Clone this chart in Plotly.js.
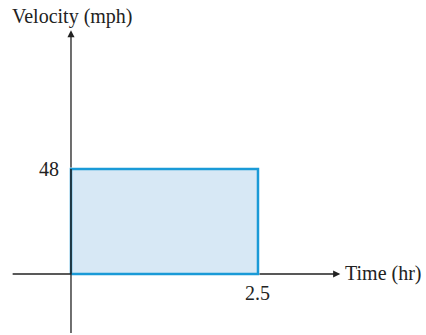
<!DOCTYPE html>
<html><head><meta charset="utf-8">
<script src="https://cdn.plot.ly/plotly-3.0.1.min.js"></script>
<style>html,body{margin:0;padding:0;background:#fff}#c{width:426px;height:335px}</style>
</head><body><div id="c"></div>
<script>
const timeHr = [2.5];
const velocityMph = [48];
const xLabel = "Time (hr)";
const yLabel = "Velocity (mph)";

const T = timeHr[0], V = velocityMph[0];
const font = {family: "Liberation Serif, Times New Roman, serif", size: 20, color: "#222"};

const rect = {
  x: [0, 0, T, T, 0], y: [0, V, V, 0, 0],
  mode: "lines", fill: "toself", fillcolor: "#d7e8f5",
  line: {color: "#1a9ad7", width: 2.5}, hoverinfo: "skip", showlegend: false
};

const xr = [-0.949, 4.746], yr = [-27.9, 125.3];
const layout = {
  width: 426, height: 335, margin: {l: 0, r: 0, t: 0, b: 0},
  paper_bgcolor: "#fff", plot_bgcolor: "#fff", showlegend: false,
  xaxis: {range: xr, visible: false, fixedrange: true},
  yaxis: {range: yr, visible: false, fixedrange: true},
  shapes: [
    {type: "line", xref: "x", yref: "y", x0: 0, x1: 0, y0: -27, y1: 0, line: {color: "#222", width: 1.3}},
    {type: "line", xref: "x", yref: "y", x0: -0.78, x1: 0, y0: 0, y1: 0, line: {color: "#222", width: 1.3}},
    {type: "line", xref: "x", yref: "y", x0: 0, x1: 0, y0: 0, y1: V, line: {color: "#222", width: 1.6}}
  ],
  annotations: [
    {x: 3.60, y: 0, ax: T, ay: 0, axref: "x", ayref: "y", xref: "x", yref: "y",
     showarrow: true, arrowhead: 2, arrowsize: 1.1, arrowwidth: 1.3, arrowcolor: "#222", text: ""},
    {x: 0, y: 111.5, ax: 0, ay: V, axref: "x", ayref: "y", xref: "x", yref: "y",
     showarrow: true, arrowhead: 2, arrowsize: 1.1, arrowwidth: 1.3, arrowcolor: "#222", text: ""},
    {x: 3.63, y: 0, xref: "x", yref: "y", text: xLabel, showarrow: false, xanchor: "left", yanchor: "middle", font: font},
    {x: 72 / 426, y: 1 - 17 / 335, xref: "paper", yref: "paper", text: yLabel, showarrow: false,
     xanchor: "center", yanchor: "middle", font: font},
    {x: -0.13, y: V, xref: "x", yref: "y", text: String(V), showarrow: false, xanchor: "right", yanchor: "middle", font: font},
    {x: T, y: -8.5, xref: "x", yref: "y", text: String(T), showarrow: false, xanchor: "center", yanchor: "middle", font: font}
  ]
};

Plotly.newPlot("c", [rect], layout, {displayModeBar: false, staticPlot: true});
</script></body></html>
